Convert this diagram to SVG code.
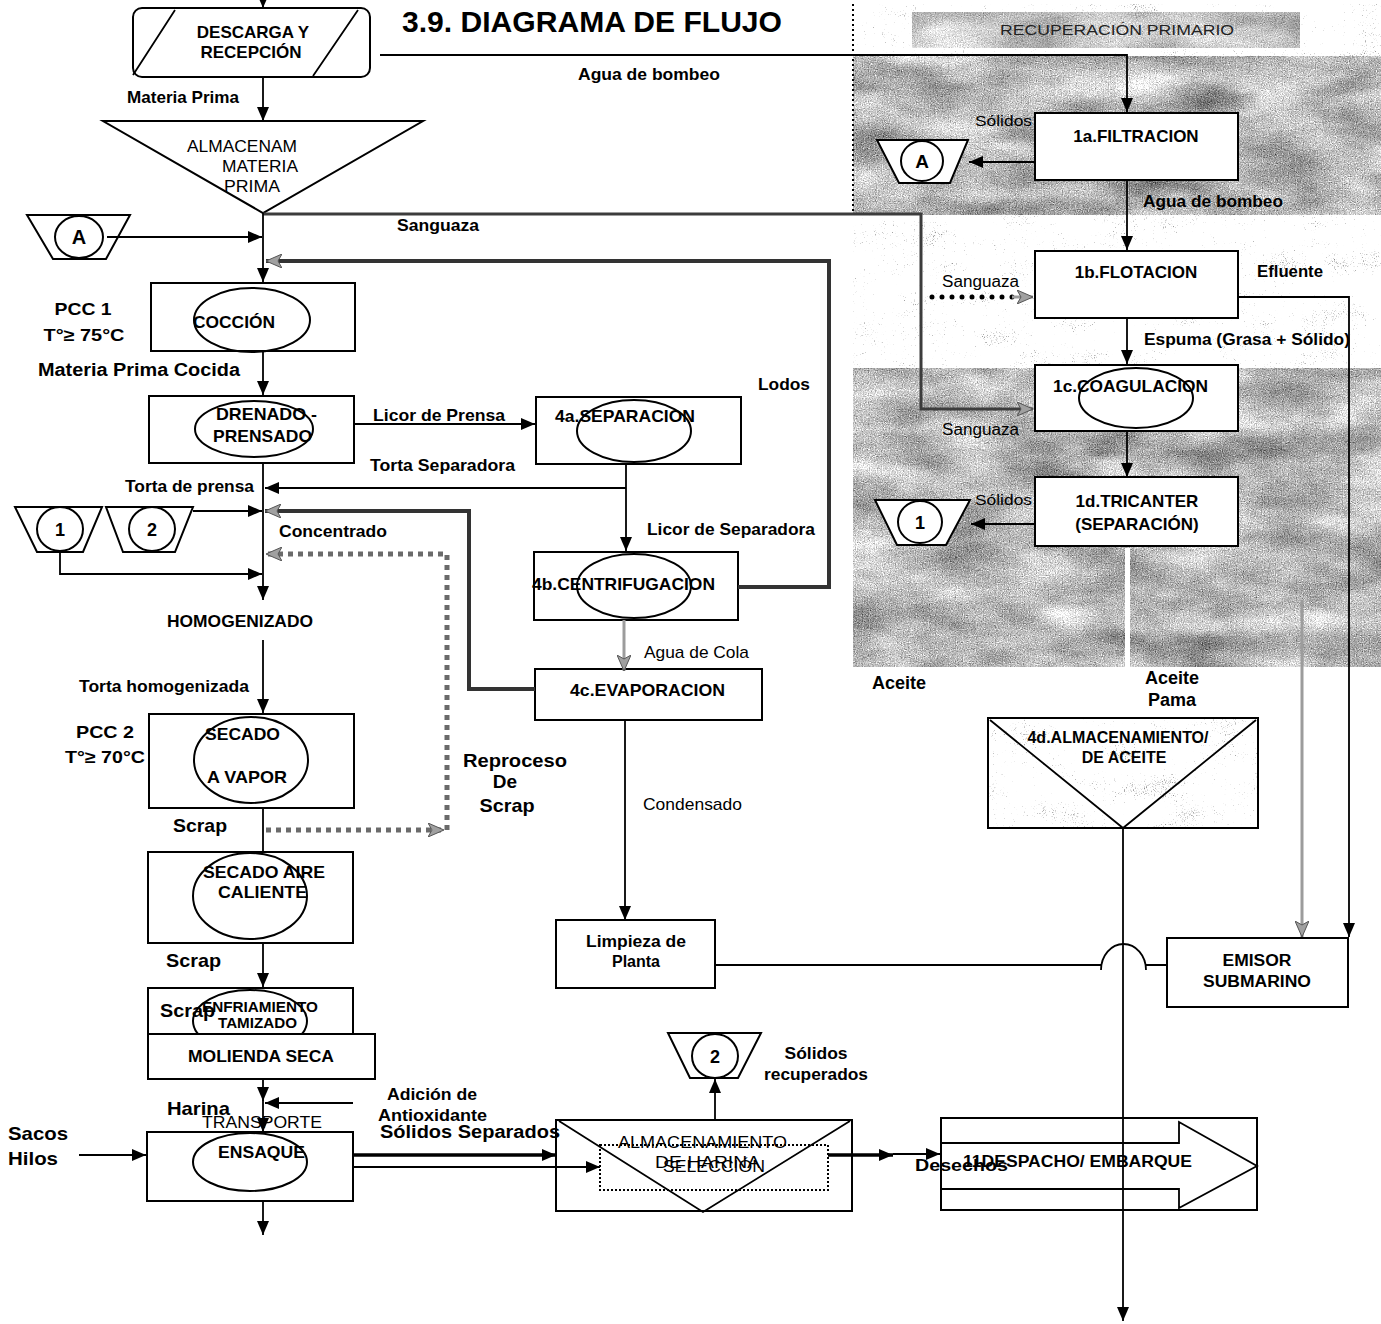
<svg xmlns="http://www.w3.org/2000/svg" width="1381" height="1324" viewBox="0 0 1381 1324">
<defs>
<style>
 .t{font-family:"Liberation Sans",Arial,sans-serif;font-size:17px;font-weight:bold;fill:#000}
 .r{font-weight:normal}
 .m{text-anchor:middle}
 .box{fill:#fff;stroke:#000;stroke-width:2}
 .open{fill:none;stroke:#000;stroke-width:2}
 .ov{fill:none;stroke:#000;stroke-width:2}
 .ln{fill:none;stroke:#000;stroke-width:1.8}
 .bold{fill:none;stroke:#000;stroke-width:3.5}
 .heavy{fill:none;stroke:#333;stroke-width:4}
 .mid{fill:none;stroke:#3c3c3c;stroke-width:3}
 .scrap{fill:none;stroke:#6a6a6a;stroke-width:5;stroke-dasharray:5 5}
 .dots{fill:none;stroke:#000;stroke-width:5;stroke-linecap:round;stroke-dasharray:0 10}
 .pale{fill:none;stroke:#9c9c9c;stroke-width:3}
 .conn{fill:#fff;stroke:#000;stroke-width:2}
 .edge{fill:none;stroke:#000;stroke-width:2;stroke-dasharray:2 3}
</style>
<marker id="ah" viewBox="0 0 14 12" refX="14" refY="6" markerWidth="14" markerHeight="12" markerUnits="userSpaceOnUse" orient="auto"><path d="M0,0 L14,6 L0,12 z" fill="#000"/></marker>
<marker id="ahg" viewBox="0 0 16 14" refX="16" refY="7" markerWidth="16" markerHeight="14" markerUnits="userSpaceOnUse" orient="auto"><path d="M0,0 L16,7 L0,14 L4,7 z" fill="#a0a0a0" stroke="#555" stroke-width="1"/></marker>
<!-- grainy photographic backdrop -->
<filter id="sea" x="0" y="0" width="1" height="1" color-interpolation-filters="sRGB">
 <feTurbulence type="fractalNoise" baseFrequency="0.012 0.03" numOctaves="4" seed="8" result="lo"/>
 <feColorMatrix in="lo" type="matrix" values="0.33 0.33 0.34 0 0 0.33 0.33 0.34 0 0 0.33 0.33 0.34 0 0 0 0 0 0 1" result="loG"/>
 <feTurbulence type="fractalNoise" baseFrequency="0.85" numOctaves="2" seed="3" result="hi"/>
 <feColorMatrix in="hi" type="matrix" values="0.33 0.33 0.34 0 0 0.33 0.33 0.34 0 0 0.33 0.33 0.34 0 0 0 0 0 0 1" result="hiG"/>
 <feComposite in="loG" in2="hiG" operator="arithmetic" k2="0.5" k3="0.6" k4="-0.1"/>
 <feComponentTransfer>
  <feFuncR type="linear" slope="2.2" intercept="-0.27"/>
  <feFuncG type="linear" slope="2.2" intercept="-0.27"/>
  <feFuncB type="linear" slope="2.2" intercept="-0.27"/>
 </feComponentTransfer>
</filter>
<filter id="speckle" x="0" y="0" width="1" height="1" color-interpolation-filters="sRGB">
 <feTurbulence type="fractalNoise" baseFrequency="0.02 0.04" numOctaves="3" seed="21" result="lo"/>
 <feColorMatrix in="lo" type="matrix" values="0.33 0.33 0.34 0 0 0.33 0.33 0.34 0 0 0.33 0.33 0.34 0 0 0 0 0 0 1" result="loG"/>
 <feTurbulence type="fractalNoise" baseFrequency="0.9" numOctaves="1" seed="5" result="hi"/>
 <feColorMatrix in="hi" type="matrix" values="0.33 0.33 0.34 0 0 0.33 0.33 0.34 0 0 0.33 0.33 0.34 0 0 0 0 0 0 1" result="hiG"/>
 <feComposite in="loG" in2="hiG" operator="arithmetic" k2="0.45" k3="0.8" k4="-0.15"/>
 <feComponentTransfer>
  <feFuncR type="linear" slope="3.5" intercept="-0.35"/>
  <feFuncG type="linear" slope="3.5" intercept="-0.35"/>
  <feFuncB type="linear" slope="3.5" intercept="-0.35"/>
 </feComponentTransfer>
</filter>
</defs>

<rect width="1381" height="1324" fill="#fff"/>

<!-- recovery area backdrop -->
<g id="backdrop">
 <rect x="853" y="4" width="528" height="52" fill="#eee" filter="url(#speckle)"/>
 <rect x="912" y="12" width="388" height="36" fill="#ccc" filter="url(#sea)" opacity="0.75"/>
 <rect x="853" y="56" width="528" height="159" fill="#bbb" filter="url(#sea)"/>
 <rect x="853" y="215" width="528" height="153" fill="#eee" filter="url(#speckle)"/>
 <rect x="853" y="368" width="528" height="299" fill="#bbb" filter="url(#sea)"/>
 <rect x="1125" y="548" width="5" height="119" fill="#fff"/>
 <path class="edge" d="M853,4 V215"/>
</g>

<g id="nodes">
 <g id="descarga-recepcion"><rect class="box" x="133" y="8" width="237" height="69" rx="9"/><path class="ln" d="M133,75 L175,10 M313,76 L358,10"/></g>
 <g id="almacenam-materia-prima"><path class="box" d="M103,121 H423 L263,213 Z"/></g>
 <g id="coccion"><rect class="box" x="151" y="283" width="204" height="68"/><ellipse class="ov" cx="252" cy="320" rx="58" ry="32"/></g>
 <g id="drenado-prensado"><rect class="box" x="149" y="396" width="205" height="67"/><ellipse class="ov" cx="254" cy="429" rx="59" ry="28"/></g>
 <g id="secado-vapor"><rect class="box" x="149" y="714" width="205" height="94"/><ellipse class="ov" cx="251" cy="760" rx="57" ry="43"/></g>
 <g id="secado-aire"><rect class="box" x="148" y="852" width="205" height="91"/><ellipse class="ov" cx="250" cy="896" rx="57" ry="43"/></g>
 <g id="enfriamiento"><rect class="box" x="148" y="988" width="205" height="46"/><ellipse class="ov" cx="250" cy="1021" rx="57" ry="31"/></g>
 <g id="molienda"><rect class="box" x="148" y="1034" width="227" height="45"/></g>
 <g id="ensaque"><rect class="box" x="147" y="1132" width="206" height="69"/><ellipse class="ov" cx="250" cy="1162" rx="57" ry="29"/></g>
 <g id="separacion-4a"><rect class="box" x="536" y="397" width="205" height="67"/><ellipse class="ov" cx="634" cy="431" rx="57" ry="31"/></g>
 <g id="centrifugacion-4b"><rect class="box" x="534" y="552" width="204" height="68"/><ellipse class="ov" cx="634" cy="586" rx="57" ry="32"/></g>
 <g id="evaporacion-4c"><rect class="box" x="535" y="669" width="227" height="51"/></g>
 <g id="limpieza"><rect class="box" x="556" y="920" width="159" height="68"/></g>
 <g id="almacenamiento-harina"><rect class="box" x="556" y="1120" width="296" height="91"/><rect x="600" y="1145" width="228" height="45" fill="none" stroke="#000" stroke-width="2" stroke-dasharray="2 2"/><path class="ln" d="M559,1121 L703,1212 L850,1121"/></g>
 <g id="despacho"><rect class="open" x="941" y="1118" width="316" height="92"/><path class="ln" d="M941,1143 H1179 V1122 L1257,1166 L1179,1208 V1189 H941"/></g>
 <g id="emisor"><rect class="box" x="1167" y="938" width="181" height="69"/></g>
 <g id="filtracion-1a"><rect class="box" x="1035" y="113" width="203" height="67"/></g>
 <g id="flotacion-1b"><rect class="box" x="1035" y="251" width="203" height="67"/></g>
 <g id="coagulacion-1c"><rect class="box" x="1035" y="365" width="203" height="66"/><ellipse class="ov" cx="1136" cy="398" rx="57" ry="30"/></g>
 <g id="tricanter-1d"><rect class="box" x="1035" y="477" width="203" height="69"/></g>
 <g id="almacenamiento-aceite-4d"><rect x="988" y="718" width="270" height="110" fill="#eee" filter="url(#speckle)"/><rect class="open" x="988" y="718" width="270" height="110"/><path class="ln" d="M990,720 L1123,828 L1256,720"/></g>
 <g id="conector-A-izq"><polygon class="conn" points="27,215 130,215 106,259 53,259"/><ellipse class="ov" cx="79" cy="237" rx="24" ry="21"/></g>
 <g id="conector-1-izq"><polygon class="conn" points="15,507 102,507 83,552 37,552"/><ellipse class="ov" cx="60" cy="529" rx="23" ry="22"/></g>
 <g id="conector-2-izq"><polygon class="conn" points="106,507 193,507 175,552 123,552"/><ellipse class="ov" cx="152" cy="529" rx="23" ry="22"/></g>
 <g id="conector-A-der"><polygon class="conn" points="877,140 968,140 950,183 899,183"/><ellipse class="ov" cx="922" cy="161" rx="21" ry="20"/></g>
 <g id="conector-1-der"><polygon class="conn" points="875,500 970,500 946,545 897,545"/><ellipse class="ov" cx="920" cy="522" rx="22" ry="21"/></g>
 <g id="conector-2-inf"><polygon class="conn" points="668,1033 761,1033 738,1078 690,1078"/><ellipse class="ov" cx="715" cy="1056" rx="23" ry="22"/></g>
</g>

<g id="connectors">
 <path class="ln" d="M263,-4 V8" marker-end="url(#ah)"/>
 <path class="ln" d="M263,77 V121" marker-end="url(#ah)"/>
 <path class="ln" d="M380,55 H1127 V112" marker-end="url(#ah)"/>
 <path class="mid" d="M263,214 H921 V409 H1033" marker-end="url(#ahg)"/>
 <path class="ln" d="M107,237 H262" marker-end="url(#ah)"/>
 <path class="ln" d="M263,213 V282" marker-end="url(#ah)"/>
 <path class="heavy" d="M738,587 H829 V261 H266" marker-end="url(#ahg)"/>
 <path class="ln" d="M263,351 V395" marker-end="url(#ah)"/>
 <path class="ln" d="M354,424 H535" marker-end="url(#ah)"/>
 <path class="ln" d="M263,463 V600" marker-end="url(#ah)"/>
 <path class="ln" d="M626,464 V551" marker-end="url(#ah)"/>
 <path class="ln" d="M626,488 H265" marker-end="url(#ah)"/>
 <path class="heavy" d="M535,689 H469 V511 H265" marker-end="url(#ahg)"/>
 <path class="ln" d="M193,511 H262" marker-end="url(#ah)"/>
 <path class="ln" d="M60,552 V574 H262" marker-end="url(#ah)"/>
 <path class="scrap" d="M447,830 V554 H266" marker-end="url(#ahg)"/>
 <path class="scrap" d="M266,830 H444" marker-end="url(#ahg)"/>
 <path class="ln" d="M263,640 V713" marker-end="url(#ah)"/>
 <path class="ln" d="M263,808 V852"/>
 <path class="ln" d="M263,943 V987" marker-end="url(#ah)"/>
 <path class="ln" d="M263,1079 V1101" marker-end="url(#ah)"/>
 <path class="ln" d="M263,1100 V1132" marker-end="url(#ah)"/>
 <path class="ln" d="M353,1103 H265" marker-end="url(#ah)"/>
 <path class="ln" d="M79,1155 H146" marker-end="url(#ah)"/>
 <path class="ln" d="M263,1201 V1235" marker-end="url(#ah)"/>
 <path class="bold" d="M353,1155 H556" marker-end="url(#ah)"/>
 <path class="ln" d="M353,1167 H600" marker-end="url(#ah)"/>
 <path class="ln" d="M715,1120 V1079" marker-end="url(#ah)"/>
 <path class="bold" d="M828,1155 H893" marker-end="url(#ah)"/>
 <path class="ln" d="M893,1154 H940" marker-end="url(#ah)"/>
 <path class="ln" d="M1035,162 H969" marker-end="url(#ah)"/>
 <path class="ln" d="M1127,180 V250" marker-end="url(#ah)"/>
 <path class="dots" d="M932,297 H1016"/>
 <path class="pale" d="M1012,297 H1033" marker-end="url(#ahg)"/>
 <path class="ln" d="M1127,318 V364" marker-end="url(#ah)"/>
 <path class="ln" d="M1127,431 V477" marker-end="url(#ah)"/>
 <path class="ln" d="M1035,524 H971" marker-end="url(#ah)"/>
 <path class="ln" d="M1238,297 H1349 V937" marker-end="url(#ah)"/>
 <path class="pale" d="M1302,600 V937" marker-end="url(#ahg)"/>
 <path class="pale" d="M624,620 V671" marker-end="url(#ahg)"/>
 <path class="ln" d="M625,720 V920" marker-end="url(#ah)"/>
 <path class="ln" d="M715,965 H1101 M1101,970 A22.5,26 0 0 1 1146,970 M1146,965 H1167"/>
 <path class="ln" d="M1123,828 V1321" marker-end="url(#ah)"/>
</g>

<g id="labels">
 <text class="t" x="402" y="32" style="font-size:30px" textLength="380" lengthAdjust="spacingAndGlyphs">3.9. DIAGRAMA DE FLUJO</text>
 <text class="t m" x="253" y="38">DESCARGA Y</text>
 <text class="t m" x="251" y="58">RECEPCIÓN</text>
 <text class="t" x="127" y="103" textLength="112" lengthAdjust="spacingAndGlyphs">Materia Prima</text>
 <text class="t" x="578" y="80" textLength="142" lengthAdjust="spacingAndGlyphs">Agua de bombeo</text>
 <text class="t r" x="187" y="152" textLength="110" lengthAdjust="spacingAndGlyphs">ALMACENAM</text>
 <text class="t r" x="222" y="172" textLength="76" lengthAdjust="spacingAndGlyphs">MATERIA</text>
 <text class="t r" x="224" y="192" textLength="56" lengthAdjust="spacingAndGlyphs">PRIMA</text>
 <text class="t" x="397" y="231" textLength="82" lengthAdjust="spacingAndGlyphs">Sanguaza</text>
 <text class="t m" x="83" y="315" textLength="57" lengthAdjust="spacingAndGlyphs">PCC 1</text>
 <text class="t m" x="84" y="341" textLength="81" lengthAdjust="spacingAndGlyphs">T°≥ 75°C</text>
 <text class="t" x="193" y="328" textLength="82" lengthAdjust="spacingAndGlyphs">COCCIÓN</text>
 <text class="t" x="38" y="376" style="font-size:18px" textLength="202" lengthAdjust="spacingAndGlyphs">Materia Prima Cocida</text>
 <text class="t" x="216" y="420" textLength="101" lengthAdjust="spacingAndGlyphs">DRENADO -</text>
 <text class="t" x="213" y="442" textLength="99" lengthAdjust="spacingAndGlyphs">PRENSADO</text>
 <text class="t" x="373" y="421" textLength="132" lengthAdjust="spacingAndGlyphs">Licor de Prensa</text>
 <text class="t" x="555" y="422" textLength="140" lengthAdjust="spacingAndGlyphs">4a.SEPARACION</text>
 <text class="t" x="370" y="471" textLength="145" lengthAdjust="spacingAndGlyphs">Torta Separadora</text>
 <text class="t" x="758" y="390" textLength="52" lengthAdjust="spacingAndGlyphs">Lodos</text>
 <text class="t" x="125" y="492" textLength="129" lengthAdjust="spacingAndGlyphs">Torta de prensa</text>
 <text class="t" x="279" y="537" textLength="108" lengthAdjust="spacingAndGlyphs">Concentrado</text>
 <text class="t" x="647" y="535" textLength="168" lengthAdjust="spacingAndGlyphs">Licor de Separadora</text>
 <text class="t" x="532" y="590" textLength="183" lengthAdjust="spacingAndGlyphs">4b.CENTRIFUGACION</text>
 <text class="t" x="167" y="627" textLength="146" lengthAdjust="spacingAndGlyphs">HOMOGENIZADO</text>
 <text class="t r" x="644" y="658" textLength="105" lengthAdjust="spacingAndGlyphs">Agua de Cola</text>
 <text class="t" x="570" y="696" textLength="155" lengthAdjust="spacingAndGlyphs">4c.EVAPORACION</text>
 <text class="t" x="79" y="692" textLength="170" lengthAdjust="spacingAndGlyphs">Torta homogenizada</text>
 <text class="t m" x="105" y="738" textLength="58" lengthAdjust="spacingAndGlyphs">PCC 2</text>
 <text class="t m" x="105" y="763" textLength="80" lengthAdjust="spacingAndGlyphs">T°≥ 70°C</text>
 <text class="t" x="205" y="740" textLength="75" lengthAdjust="spacingAndGlyphs">SECADO</text>
 <text class="t" x="207" y="783" textLength="80" lengthAdjust="spacingAndGlyphs">A VAPOR</text>
 <text class="t m" x="515" y="767" style="font-size:19px" textLength="104" lengthAdjust="spacingAndGlyphs">Reproceso</text>
 <text class="t m" x="505" y="788" style="font-size:19px">De</text>
 <text class="t m" x="507" y="812" style="font-size:19px" textLength="55" lengthAdjust="spacingAndGlyphs">Scrap</text>
 <text class="t r" x="643" y="810" textLength="99" lengthAdjust="spacingAndGlyphs">Condensado</text>
 <text class="t" x="173" y="832" style="font-size:19px" textLength="54" lengthAdjust="spacingAndGlyphs">Scrap</text>
 <text class="t" x="203" y="878" textLength="122" lengthAdjust="spacingAndGlyphs">SECADO AIRE</text>
 <text class="t" x="218" y="898" textLength="89" lengthAdjust="spacingAndGlyphs">CALIENTE</text>
 <text class="t" x="166" y="967" style="font-size:19px" textLength="55" lengthAdjust="spacingAndGlyphs">Scrap</text>
 <text class="t" x="202" y="1012" style="font-size:14px" textLength="116" lengthAdjust="spacingAndGlyphs">ENFRIAMIENTO</text>
 <text class="t" x="218" y="1028" style="font-size:14px" textLength="79" lengthAdjust="spacingAndGlyphs">TAMIZADO</text>
 <text class="t" x="160" y="1017" style="font-size:19px" textLength="55" lengthAdjust="spacingAndGlyphs">Scrap</text>
 <text class="t" x="188" y="1062" textLength="146" lengthAdjust="spacingAndGlyphs">MOLIENDA SECA</text>
 <text class="t" x="387" y="1100" style="font-size:16px" textLength="90" lengthAdjust="spacingAndGlyphs">Adición de</text>
 <text class="t" x="378" y="1121" style="font-size:16px" textLength="109" lengthAdjust="spacingAndGlyphs">Antioxidante</text>
 <text class="t" x="167" y="1115" style="font-size:19px" textLength="63" lengthAdjust="spacingAndGlyphs">Harina</text>
 <text class="t r" x="202" y="1128" textLength="120" lengthAdjust="spacingAndGlyphs">TRANSPORTE</text>
 <text class="t" x="380" y="1138" style="font-size:18px" textLength="180" lengthAdjust="spacingAndGlyphs">Sólidos Separados</text>
 <text class="t" x="218" y="1158" textLength="87" lengthAdjust="spacingAndGlyphs">ENSAQUE</text>
 <text class="t" x="8" y="1140" style="font-size:19px" textLength="60" lengthAdjust="spacingAndGlyphs">Sacos</text>
 <text class="t" x="8" y="1165" style="font-size:19px" textLength="50" lengthAdjust="spacingAndGlyphs">Hilos</text>
 <text class="t m" x="636" y="947" style="font-size:16px" textLength="100" lengthAdjust="spacingAndGlyphs">Limpieza de</text>
 <text class="t m" x="636" y="967" style="font-size:16px">Planta</text>
 <text class="t m" x="816" y="1059" style="font-size:16px" textLength="63" lengthAdjust="spacingAndGlyphs">Sólidos</text>
 <text class="t m" x="816" y="1080" style="font-size:16px" textLength="104" lengthAdjust="spacingAndGlyphs">recuperados</text>
 <text class="t r" x="618" y="1148" textLength="169" lengthAdjust="spacingAndGlyphs">ALMACENAMIENTO</text>
 <text class="t r" x="655" y="1168" textLength="105" lengthAdjust="spacingAndGlyphs">DE HARINA</text>
 <text class="t r" x="663" y="1172" textLength="102" lengthAdjust="spacingAndGlyphs">SELECCIÓN</text>
 <text class="t" x="915" y="1171" textLength="93" lengthAdjust="spacingAndGlyphs">Desechos</text>
 <text class="t" x="963" y="1167" style="font-size:16px" textLength="229" lengthAdjust="spacingAndGlyphs">11DESPACHO/ EMBARQUE</text>
 <text class="t m" x="1257" y="966" style="font-size:16px" textLength="69" lengthAdjust="spacingAndGlyphs">EMISOR</text>
 <text class="t m" x="1257" y="987" style="font-size:16px" textLength="108" lengthAdjust="spacingAndGlyphs">SUBMARINO</text>
 <text class="t r" x="1000" y="35" style="font-size:14px;fill:#222" textLength="234" lengthAdjust="spacingAndGlyphs">RECUPERACIÓN PRIMARIO</text>
 <text class="t r" x="975" y="126" style="font-size:15px" textLength="57" lengthAdjust="spacingAndGlyphs">Sólidos</text>
 <text class="t m" x="1136" y="142">1a.FILTRACION</text>
 <text class="t" x="1143" y="207" textLength="140" lengthAdjust="spacingAndGlyphs">Agua de bombeo</text>
 <text class="t m" x="1136" y="278">1b.FLOTACION</text>
 <text class="t" x="1257" y="277" style="font-size:16px" textLength="66" lengthAdjust="spacingAndGlyphs">Efluente</text>
 <text class="t r" x="942" y="287" style="font-size:16px" textLength="77" lengthAdjust="spacingAndGlyphs">Sanguaza</text>
 <text class="t" x="1144" y="345" style="font-size:16px" textLength="206" lengthAdjust="spacingAndGlyphs">Espuma (Grasa + Sólido)</text>
 <text class="t" x="1053" y="392" textLength="155" lengthAdjust="spacingAndGlyphs">1c.COAGULACION</text>
 <text class="t r" x="942" y="435" style="font-size:16px" textLength="77" lengthAdjust="spacingAndGlyphs">Sanguaza</text>
 <text class="t m" x="1137" y="507">1d.TRICANTER</text>
 <text class="t m" x="1137" y="530">(SEPARACIÓN)</text>
 <text class="t r" x="975" y="505" style="font-size:15px" textLength="57" lengthAdjust="spacingAndGlyphs">Sólidos</text>
 <text class="t" x="872" y="689" style="font-size:18px">Aceite</text>
 <text class="t m" x="1172" y="684" style="font-size:18px">Aceite</text>
 <text class="t m" x="1172" y="706" style="font-size:18px">Pama</text>
 <text class="t m" x="1118" y="743" style="font-size:16px">4d.ALMACENAMIENTO/</text>
 <text class="t m" x="1124" y="763" style="font-size:16px">DE ACEITE</text>
 <text class="t m" x="79" y="244" style="font-size:20px">A</text>
 <text class="t m" x="922" y="168" style="font-size:19px">A</text>
 <text class="t m" x="60" y="536" style="font-size:18px">1</text>
 <text class="t m" x="152" y="536" style="font-size:18px">2</text>
 <text class="t m" x="920" y="529" style="font-size:18px">1</text>
 <text class="t m" x="715" y="1063" style="font-size:18px">2</text>
</g>
</svg>
